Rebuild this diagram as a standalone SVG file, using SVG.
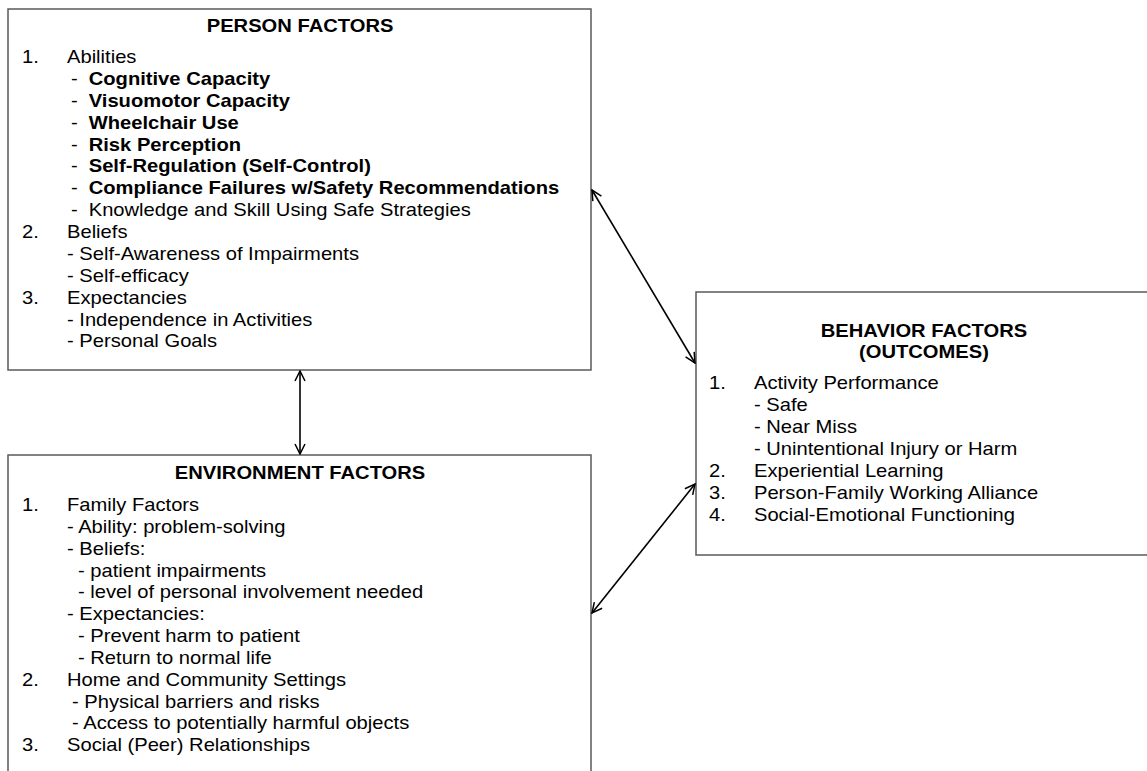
<svg xmlns="http://www.w3.org/2000/svg" width="1147" height="771" viewBox="0 0 1147 771">
<defs>
<style>
.box{fill:#fff;stroke:#5a5a5a;stroke-width:1.5}
text{font-family:"Liberation Sans",Arial,sans-serif;font-size:18px;fill:#000}
.t{font-weight:bold;text-anchor:middle}
.b{font-weight:bold}
.c{stroke:#000;stroke-width:1.6;fill:none;marker-start:url(#ah);marker-end:url(#ah)}
</style>
<marker id="ah" viewBox="0 0 12 12" refX="11" refY="6" markerWidth="12" markerHeight="12" markerUnits="userSpaceOnUse" orient="auto-start-reverse">
<path d="M1,1 L11,6 L1,11" fill="none" stroke="#000" stroke-width="1.5"/>
</marker>
</defs>
<rect width="1147" height="771" fill="#fff"/>
<g id="person">
<rect class="box" x="8" y="9" width="583" height="361"/>
<g transform="scale(1.12,1)">
<text class="t" x="267.9" y="32">PERSON FACTORS</text>
<text x="19.6" y="63">1.</text><text x="59.8" y="63">Abilities</text>
<text x="63.4" y="85">-</text><text class="b" x="79.2" y="85">Cognitive Capacity</text>
<text x="63.4" y="107">-</text><text class="b" x="79.2" y="107">Visuomotor Capacity</text>
<text x="63.4" y="129">-</text><text class="b" x="79.2" y="129">Wheelchair Use</text>
<text x="63.4" y="151">-</text><text class="b" x="79.2" y="151">Risk Perception</text>
<text x="63.4" y="172">-</text><text class="b" x="79.2" y="172">Self-Regulation (Self-Control)</text>
<text x="63.4" y="194">-</text><text class="b" x="79.2" y="194">Compliance Failures w/Safety Recommendations</text>
<text x="63.4" y="216">-</text><text x="79.2" y="216">Knowledge and Skill Using Safe Strategies</text>
<text x="19.6" y="238">2.</text><text x="59.8" y="238">Beliefs</text>
<text x="59.8" y="260">- Self-Awareness of Impairments</text>
<text x="59.8" y="282">- Self-efficacy</text>
<text x="19.6" y="304">3.</text><text x="59.8" y="304">Expectancies</text>
<text x="59.8" y="326">- Independence in Activities</text>
<text x="59.8" y="347">- Personal Goals</text>
</g>
</g>
<g id="environment">
<rect class="box" x="8" y="455" width="583" height="330"/>
<g transform="scale(1.12,1)">
<text class="t" x="267.9" y="479">ENVIRONMENT FACTORS</text>
<text x="19.6" y="511">1.</text><text x="59.8" y="511">Family Factors</text>
<text x="59.8" y="533">- Ability: problem-solving</text>
<text x="59.8" y="555">- Beliefs:</text>
<text x="69.6" y="577">- patient impairments</text>
<text x="69.6" y="598">- level of personal involvement needed</text>
<text x="59.8" y="620">- Expectancies:</text>
<text x="69.6" y="642">- Prevent harm to patient</text>
<text x="69.6" y="664">- Return to normal life</text>
<text x="19.6" y="686">2.</text><text x="59.8" y="686">Home and Community Settings</text>
<text x="64.3" y="708">- Physical barriers and risks</text>
<text x="64.3" y="729">- Access to potentially harmful objects</text>
<text x="19.6" y="751">3.</text><text x="59.8" y="751">Social (Peer) Relationships</text>
</g>
</g>
<g id="behavior">
<rect class="box" x="696" y="292" width="460" height="263"/>
<g transform="scale(1.12,1)">
<text class="t" x="825" y="337">BEHAVIOR FACTORS</text>
<text class="t" x="825" y="358">(OUTCOMES)</text>
<text x="633" y="389">1.</text><text x="673.2" y="389">Activity Performance</text>
<text x="673.2" y="411">- Safe</text>
<text x="673.2" y="433">- Near Miss</text>
<text x="673.2" y="455">- Unintentional Injury or Harm</text>
<text x="633" y="477">2.</text><text x="673.2" y="477">Experiential Learning</text>
<text x="633" y="499">3.</text><text x="673.2" y="499">Person-Family Working Alliance</text>
<text x="633" y="521">4.</text><text x="673.2" y="521">Social-Emotional Functioning</text>
</g>
</g>
<g id="connectors">
<line class="c" x1="300" y1="371" x2="300" y2="454"/>
<line class="c" x1="592" y1="190" x2="695" y2="363"/>
<line class="c" x1="592" y1="613" x2="695" y2="484"/>
</g>
</svg>
